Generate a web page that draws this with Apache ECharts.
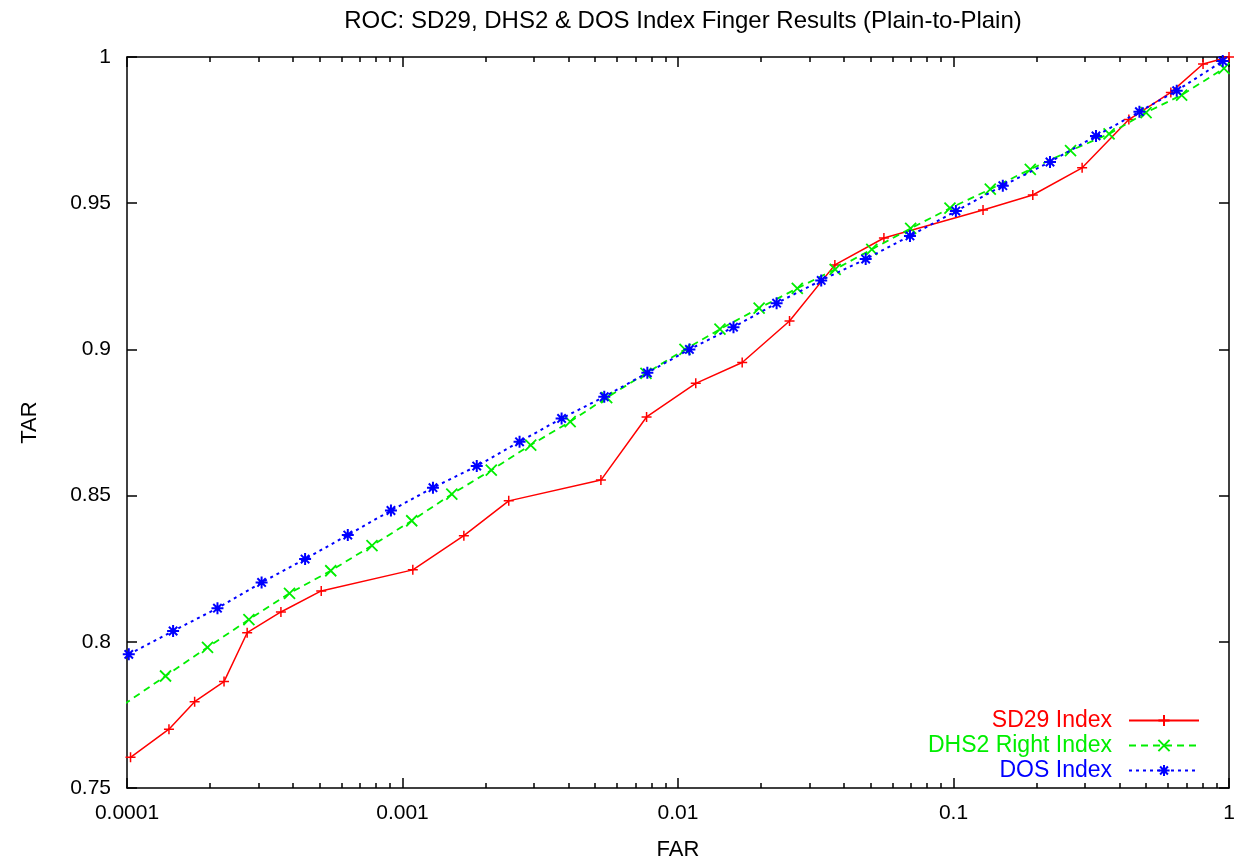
<!DOCTYPE html>
<html>
<head>
<meta charset="utf-8">
<title>ROC: SD29, DHS2 &amp; DOS Index Finger Results</title>
<script src="https://cdn.jsdelivr.net/npm/echarts@6/dist/echarts.min.js"></script>
<style>
  html, body { margin: 0; padding: 0; background: #fff; }
  #chart { width: 1241px; height: 860px; }
</style>
</head>
<body>
<div id="chart"></div>
<script>
// ROC curves: false accept rate (log scale) vs. true accept rate
const sd29Far = [0.000103, 0.000142, 0.000176, 0.000225, 0.000273, 0.000362, 0.000507, 0.00109, 0.00167, 0.00243, 0.00525, 0.00769, 0.0116, 0.0171, 0.0254, 0.0371, 0.0559, 0.128, 0.194, 0.293, 0.433, 0.615, 0.805, 1.0];
const sd29Tar = [0.7605, 0.7701, 0.7795, 0.7864, 0.8031, 0.8102, 0.8174, 0.8246, 0.8363, 0.8482, 0.8553, 0.8769, 0.8884, 0.8955, 0.9097, 0.9289, 0.9381, 0.9477, 0.9528, 0.9621, 0.9786, 0.9879, 0.9976, 1.0];

const dhs2Far = [0.0000975, 0.000138, 0.000196, 0.000277, 0.000389, 0.000549, 0.000775, 0.00108, 0.00151, 0.0021, 0.00292, 0.00406, 0.00551, 0.00765, 0.0106, 0.0142, 0.0197, 0.0271, 0.0372, 0.0505, 0.0699, 0.0971, 0.136, 0.190, 0.266, 0.367, 0.500, 0.673, 0.959];
const dhs2Tar = [0.7786, 0.7883, 0.7981, 0.8076, 0.8166, 0.8243, 0.8329, 0.8414, 0.8505, 0.8587, 0.8673, 0.8753, 0.8835, 0.8918, 0.9000, 0.9069, 0.9141, 0.9209, 0.9274, 0.9342, 0.9414, 0.9483, 0.9548, 0.9616, 0.9680, 0.9737, 0.9810, 0.9870, 0.9961];

const dosFar = [0.0001015, 0.000147, 0.000213, 0.000308, 0.000443, 0.000633, 0.000908, 0.00129, 0.00186, 0.00266, 0.00378, 0.0054, 0.00774, 0.011, 0.0159, 0.0228, 0.0331, 0.048, 0.0695, 0.102, 0.151, 0.224, 0.329, 0.473, 0.646, 0.949];
const dosTar = [0.7957, 0.8037, 0.8115, 0.8203, 0.8283, 0.8365, 0.8449, 0.8527, 0.8601, 0.8684, 0.8764, 0.8838, 0.8920, 0.9000, 0.9076, 0.9158, 0.9236, 0.9309, 0.9388, 0.9473, 0.9560, 0.9641, 0.9730, 0.9813, 0.9885, 0.9986];

const xTickLabels = ['0.0001', '0.001', '0.01', '0.1', '1'];
const yTickLabels = ['0.75', '0.8', '0.85', '0.9', '0.95', '1'];
// minor log ticks 2..9 within each decade
const xMinorTicks = [];
[0.0001, 0.001, 0.01, 0.1].forEach(function (d) {
  for (let k = 2; k <= 9; k++) xMinorTicks.push(+(d * k).toPrecision(3));
});

const FONT = 'Liberation Sans, Arial, Helvetica, sans-serif';
const RED = '#ff0000', GREEN = '#00ee00', BLUE = '#0000ff';

const plusPath = 'path://M0,5L10,5M5,0L5,10';
const crossPath = 'path://M0,0L10,10M0,10L10,0';
const starPath = 'path://M0,5L10,5M5,0L5,10M1.5,1.5L8.5,8.5M1.5,8.5L8.5,1.5';

function pairs(xs, ys) { return xs.map(function (x, i) { return [x, ys[i]]; }); }

const chart = echarts.init(document.getElementById('chart'), null, { renderer: 'canvas' });

const frameLine = { show: true, lineStyle: { color: '#000', width: 1.5 } };

function logAxis(pos, major, extra) {
  return Object.assign({
    type: 'log', logBase: 10, min: 0.0001, max: 1, position: pos,
    splitLine: { show: false }, minorTick: { show: false }, minorSplitLine: { show: false },
    axisLine: major ? frameLine : { show: false },
    axisTick: major
      ? { show: true, inside: true, length: 10, lineStyle: { color: '#000', width: 1.5 } }
      : { show: true, inside: true, length: 5, customValues: xMinorTicks, lineStyle: { color: '#000', width: 1.5 } },
    axisLabel: { show: false }
  }, extra || {});
}

const option = {
  animation: false,
  backgroundColor: '#fff',
  title: {
    text: 'ROC: SD29, DHS2 & DOS Index Finger Results (Plain-to-Plain)',
    left: 678, top: 4, textAlign: 'center',
    textStyle: { fontFamily: FONT, fontSize: 24, fontWeight: 'normal', color: '#000' }
  },
  grid: { left: 127, right: 12, top: 57, bottom: 72, containLabel: false, outerBoundsMode: 'none' },
  legend: {
    orient: 'vertical', align: 'right', right: 36, top: 704,
    itemWidth: 70, itemHeight: 14, itemGap: 2,
    textStyle: { fontFamily: FONT, fontSize: 23, padding: [0, 12, 0, 0] },
    data: [
      { name: 'SD29 Index', textStyle: { color: RED } },
      { name: 'DHS2 Right Index', textStyle: { color: GREEN } },
      { name: 'DOS Index', textStyle: { color: BLUE } }
    ],
    selectedMode: false
  },
  xAxis: [
    logAxis('bottom', true, {
      name: 'FAR', nameLocation: 'middle', nameGap: 51,
      nameTextStyle: { fontFamily: FONT, fontSize: 22, color: '#000' },
      axisLabel: {
        show: true, margin: 15, fontFamily: FONT, fontSize: 21, color: '#000',
        formatter: function (v, i) { return xTickLabels[i]; }
      }
    }),
    logAxis('bottom', false),
    logAxis('top', true),
    logAxis('top', false)
  ],
  yAxis: [
    {
      type: 'value', min: 0.75, max: 1, interval: 0.05, position: 'left',
      splitLine: { show: false }, axisLine: frameLine,
      axisTick: { show: true, inside: true, length: 10, lineStyle: { color: '#000', width: 1.5 } },
      axisLabel: {
        margin: 16, fontFamily: FONT, fontSize: 21, color: '#000',
        formatter: function (v, i) { return yTickLabels[i]; }
      },
      name: 'TAR', nameLocation: 'middle', nameGap: 86, nameRotate: 90,
      nameTextStyle: { fontFamily: FONT, fontSize: 22, color: '#000' }
    },
    {
      type: 'value', min: 0.75, max: 1, interval: 0.05, position: 'right',
      splitLine: { show: false }, axisLine: frameLine,
      axisTick: { show: true, inside: true, length: 10, lineStyle: { color: '#000', width: 1.5 } },
      axisLabel: { show: false }
    }
  ],
  series: [
    {
      name: 'SD29 Index', type: 'line', xAxisIndex: 0, yAxisIndex: 0, clip: true,
      data: pairs(sd29Far, sd29Tar),
      symbol: plusPath, symbolSize: 10, showAllSymbol: true,
      lineStyle: { color: RED, width: 1.5, type: 'solid' },
      itemStyle: { color: RED, borderColor: RED, borderWidth: 1.5 },
      emphasis: { disabled: true }, z: 3
    },
    {
      name: 'DHS2 Right Index', type: 'line', xAxisIndex: 0, yAxisIndex: 0, clip: true,
      data: pairs(dhs2Far, dhs2Tar),
      symbol: crossPath, symbolSize: 11, showAllSymbol: true,
      lineStyle: { color: GREEN, width: 1.8, type: [7, 5] },
      itemStyle: { color: GREEN, borderColor: GREEN, borderWidth: 1.8 },
      emphasis: { disabled: true }, z: 4
    },
    {
      name: 'DOS Index', type: 'line', xAxisIndex: 0, yAxisIndex: 0, clip: true,
      data: pairs(dosFar, dosTar),
      symbol: starPath, symbolSize: 12, showAllSymbol: true,
      lineStyle: { color: BLUE, width: 2, type: [3, 4] },
      itemStyle: { color: BLUE, borderColor: BLUE, borderWidth: 2 },
      emphasis: { disabled: true }, z: 5
    }
  ]
};

chart.setOption(option);
</script>
</body>
</html>
